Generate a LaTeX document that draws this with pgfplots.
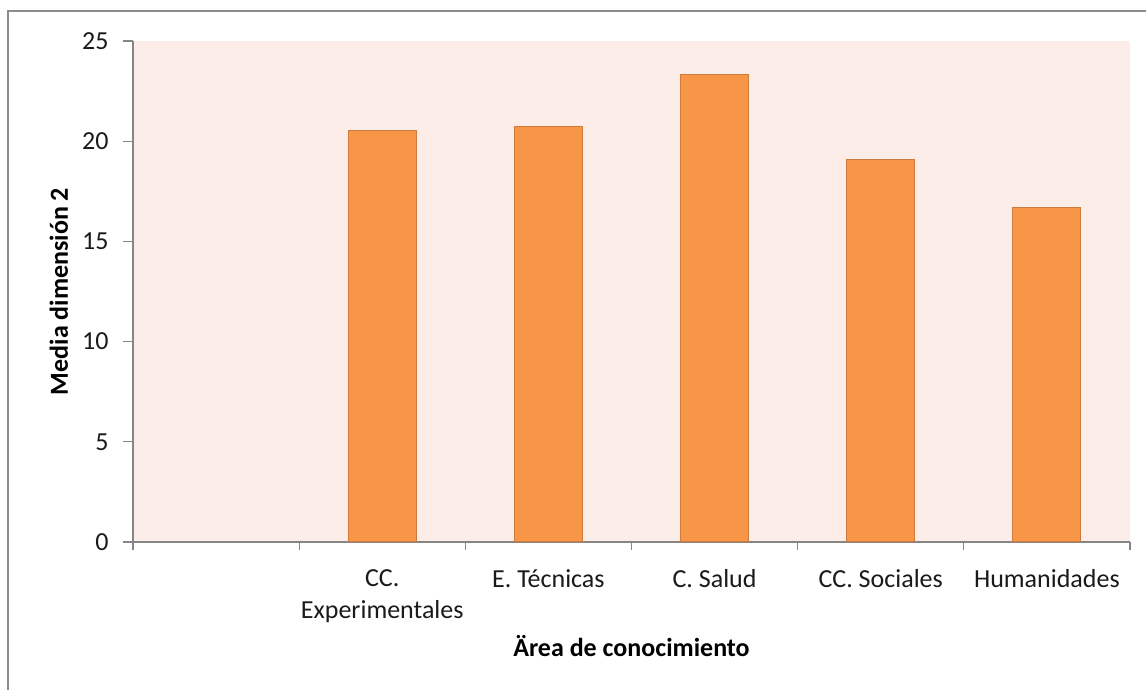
\documentclass[border=0pt]{standalone}
\usepackage{fontspec}
\setmainfont{Carlito}
\usepackage{pgfplots}
\pgfplotsset{compat=1.18}
\definecolor{barfill}{HTML}{F79646}
\definecolor{bardraw}{HTML}{D27A3A}
\definecolor{plotbg}{HTML}{FCEDE8}
\definecolor{axgray}{HTML}{868686}
\definecolor{framegray}{HTML}{8C8C8C}
\definecolor{txt}{HTML}{1A1A1A}
\begin{document}
\begin{tikzpicture}
\useasboundingbox (0,0) rectangle (573pt,345pt);
\draw[framegray, line width=0.9pt] (4pt,0pt) -- (4pt,339.5pt) -- (573pt,339.5pt);
\begin{axis}[
  at={(66.5pt,74pt)}, anchor=south west, scale only axis,
  width=498.5pt, height=250.5pt,
  xmin=0, xmax=6, ymin=0, ymax=25,
  axis x line*=bottom, axis y line*=left,
  axis line style={axgray, line width=0.6pt, -},
  axis background/.style={fill=plotbg},
  ytick={0,5,...,25},
  xtick={1.5,2.5,3.5,4.5,5.5},
  xticklabels={{CC.\\Experimentales},{E. Técnicas},{C. Salud},{CC. Sociales},{Humanidades}},
  minor xtick={0,1,...,6},
  tick align=outside,
  major tick length=5pt, minor tick length=4pt,
  tick style={axgray, line width=0.6pt},
  major x tick style={draw=none},
  /pgf/number format/assume math mode=true,
  xticklabel style={align=center, text=txt, font=\fontsize{13}{16}\selectfont, anchor=north, inner sep=0pt, yshift=-8.5pt},
  yticklabel style={text=txt, font=\fontsize{13}{15.5}\selectfont, anchor=east, inner sep=0pt, xshift=-7pt},
  xlabel={Ärea de conocimiento},
  ylabel={Media dimensión 2},
  xlabel style={text=black, font=\bfseries\fontsize{13}{15.5}\selectfont, at={(axis description cs:0.5,-0.2295)}, anchor=base},
  ylabel style={text=black, font=\bfseries\fontsize{13}{15.5}\selectfont, at={(axis description cs:-0.0652,0.5)}, anchor=base},
  ybar, bar width=34pt,
]
\addplot[fill=barfill, draw=bardraw, line width=0.5pt] coordinates {(1.5,20.54) (2.5,20.72) (3.5,23.35) (4.5,19.07) (5.5,16.71)};
\end{axis}
\end{tikzpicture}
\end{document}
